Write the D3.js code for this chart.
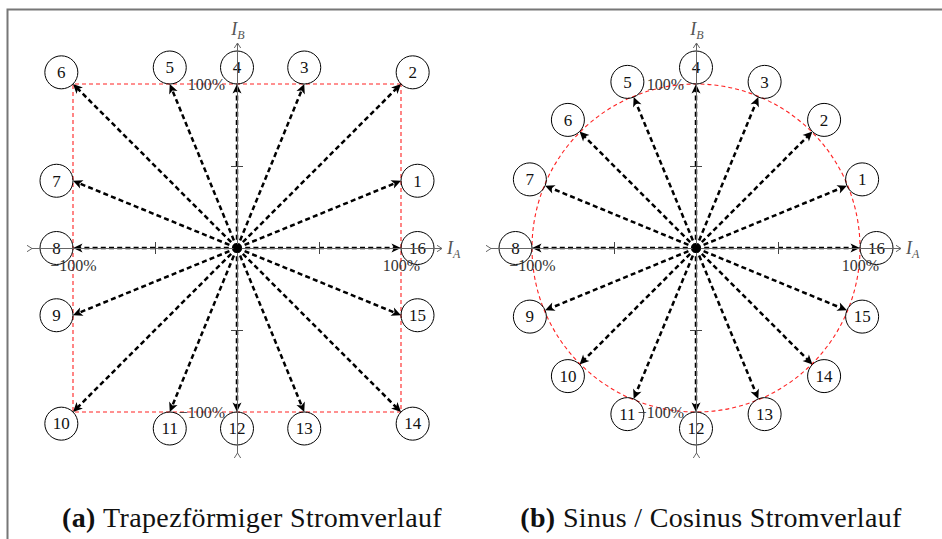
<!DOCTYPE html>
<html>
<head>
<meta charset="utf-8">
<script src="https://cdn.jsdelivr.net/npm/d3@7"></script>
<style>
  html, body { margin: 0; padding: 0; background: #fff; }
  svg { display: block; }
</style>
</head>
<body>
<svg id="chart" width="942" height="539"></svg>
<script>
// Step numbers of the 16 current vectors (counter-clockwise, 16 = +I_A)
const stepLabels = ['1', '2', '3', '4', '5', '6', '7', '8', '9', '10', '11', '12', '13', '14', '15', '16'];

// (a) trapezoidal current, values in % of max current
const trapezA = [100, 100, 41, 0, -41, -100, -100, -100, -100, -100, -41, 0, 41, 100, 100, 100];
const trapezB = [41, 100, 100, 100, 100, 100, 41, 0, -41, -100, -100, -100, -100, -100, -41, 0];

// (b) sine / cosine current
const sinusA = [92, 71, 38, 0, -38, -71, -92, -100, -92, -71, -38, 0, 38, 71, 92, 100];
const sinusB = [38, 71, 92, 100, 92, 71, 38, 0, -38, -71, -92, -100, -92, -71, -38, 0];

// axes
const tickValues = [-50, 50];
const tickLabelValues = [-100, 100];
const tickLabelTexts = ['\u2212100%', '100%'];
const limitValue = 100;

const captionTags = ['(a)', '(b)'];
const captionTexts = ['Trapezförmiger Stromverlauf', 'Sinus / Cosinus Stromverlauf'];

const serif = "'Liberation Serif', 'Times New Roman', serif";
const axisColor = '#666';

const svg = d3.select('#chart');

// frame of the figure (only top and left edge are visible)
svg.append('rect')
    .attr('x', 7.5).attr('y', 9.5)
    .attr('width', 1200).attr('height', 1200)
    .attr('fill', 'none')
    .attr('stroke', '#777')
    .attr('stroke-width', 2);

const defs = svg.append('defs');
defs.append('marker')
    .attr('id', 'vec-head')
    .attr('viewBox', '-8 -6 14 12')
    .attr('markerWidth', 14).attr('markerHeight', 12)
    .attr('markerUnits', 'userSpaceOnUse')
    .attr('orient', 'auto')
    .append('path')
    .attr('d', 'M4,0 L-5.5,-4.5 L-3,0 L-5.5,4.5 Z')
    .attr('fill', '#000');
defs.append('marker')
    .attr('id', 'axis-head')
    .attr('viewBox', '-7 -5 9 10')
    .attr('markerWidth', 9).attr('markerHeight', 10)
    .attr('markerUnits', 'userSpaceOnUse')
    .attr('orient', 'auto')
    .append('path')
    .attr('d', 'M-5,-3.2 L0,0 L-5,3.2')
    .attr('fill', 'none')
    .attr('stroke', axisColor)
    .attr('stroke-width', 1);

const panels = [
    { cx: 237, cy: 248, r: 164, a: trapezA, b: trapezB, shape: 'square', caption: 0 },
    { cx: 696, cy: 248, r: 164, a: sinusA, b: sinusB, shape: 'circle', caption: 1 }
];

const labelRadius = 16.5;
const axisExtent = 125;

panels.forEach(p => drawPanel(p));

function drawPanel(p) {
    const x = d3.scaleLinear().domain([-limitValue, limitValue]).range([p.cx - p.r, p.cx + p.r]);
    const y = d3.scaleLinear().domain([-limitValue, limitValue]).range([p.cy + p.r, p.cy - p.r]);
    const g = svg.append('g');

    const data = stepLabels.map((label, i) => ({ label, a: p.a[i], b: p.b[i] }));

    // red limit outline
    const outline = p.shape === 'square'
        ? g.append('path')
            .attr('d', d3.line().x(d => x(d.a)).y(d => y(d.b)).curve(d3.curveLinearClosed)(
                data.filter(d => Math.abs(d.a) === limitValue && Math.abs(d.b) === limitValue)))
        : g.append('circle')
            .attr('cx', x(0)).attr('cy', y(0))
            .attr('r', x(limitValue) - x(0));
    outline
        .attr('fill', 'none')
        .attr('stroke', '#f22')
        .attr('stroke-width', 1.1)
        .attr('stroke-dasharray', '4,3');

    // current vectors
    const shorten = (d, k) => {
        const dx = x(d.a) - x(0), dy = y(d.b) - y(0);
        const len = Math.hypot(dx, dy);
        return [x(d.a) - 4 * dx / len, y(d.b) - 4 * dy / len][k];
    };
    g.selectAll('.vec')
        .data(data)
        .enter()
        .append('line')
        .attr('class', 'vec')
        .attr('x1', x(0)).attr('y1', y(0))
        .attr('x2', d => shorten(d, 0))
        .attr('y2', d => shorten(d, 1))
        .attr('stroke', '#000')
        .attr('stroke-width', 2.5)
        .attr('stroke-dasharray', '5,3.2')
        .attr('marker-end', 'url(#vec-head)');

    // numbered circles just outside each vector tip
    const labelDir = d => {
        let ux, uy;
        if (p.shape === 'square') {
            ux = Math.abs(d.a) === limitValue ? Math.sign(d.a) : 0;
            uy = Math.abs(d.b) === limitValue ? Math.sign(d.b) : 0;
        } else {
            ux = d.a; uy = d.b;
        }
        const n = Math.hypot(ux, uy);
        return [ux / n, -uy / n];
    };
    const nodes = g.selectAll('.node')
        .data(data)
        .enter()
        .append('g')
        .attr('class', 'node')
        .attr('transform', d => {
            const [ux, uy] = labelDir(d);
            return `translate(${x(d.a) + ux * labelRadius},${y(d.b) + uy * labelRadius})`;
        });
    nodes.append('circle')
        .attr('r', labelRadius)
        .attr('fill', 'none')
        .attr('stroke', '#000')
        .attr('stroke-width', 1);
    nodes.append('text')
        .attr('text-anchor', 'middle')
        .attr('dy', '0.34em')
        .style('font-family', serif)
        .style('font-size', '17px')
        .attr('fill', '#111')
        .text(d => d.label);

    // axes with arrow heads on both ends
    const ax = g.append('g');
    ax.append('line')
        .attr('x1', x(-axisExtent)).attr('x2', x(axisExtent))
        .attr('y1', y(0) + 0.5).attr('y2', y(0) + 0.5)
        .attr('stroke', axisColor)
        .attr('marker-start', 'url(#axis-head)')
        .attr('marker-end', 'url(#axis-head)');
    ax.append('line')
        .attr('x1', x(0) + 0.5).attr('x2', x(0) + 0.5)
        .attr('y1', y(-axisExtent)).attr('y2', y(axisExtent))
        .attr('stroke', axisColor)
        .attr('marker-start', 'url(#axis-head)')
        .attr('marker-end', 'url(#axis-head)');

    // crossing tick marks at +-50%
    const xTicks = ax.append('g')
        .attr('transform', `translate(0,${y(0) - 6})`)
        .call(d3.axisBottom(x).tickValues(tickValues).tickSize(12).tickSizeOuter(0).tickFormat(''));
    const yTicks = ax.append('g')
        .attr('transform', `translate(${x(0) + 6},0)`)
        .call(d3.axisLeft(y).tickValues(tickValues).tickSize(12).tickSizeOuter(0).tickFormat(''));
    [xTicks, yTicks].forEach(s => {
        s.select('.domain').remove();
        s.selectAll('line').attr('stroke', '#444').attr('stroke-width', 1);
    });

    // +-100% tick labels
    const fmt = v => tickLabelTexts[tickLabelValues.indexOf(v)];
    const xLab = ax.append('g')
        .attr('transform', `translate(0,${y(0)})`)
        .call(d3.axisBottom(x).tickValues(tickLabelValues).tickSize(0).tickPadding(12).tickFormat(fmt));
    const yLab = ax.append('g')
        .attr('transform', `translate(${x(0)},0)`)
        .call(d3.axisLeft(y).tickValues(tickLabelValues).tickSize(0).tickPadding(12).tickFormat(fmt));
    [xLab, yLab].forEach(s => {
        s.select('.domain').remove();
        s.selectAll('text')
            .style('font-family', serif)
            .style('font-size', '16px')
            .attr('fill', '#333');
    });

    // axis names
    const iA = ax.append('text')
        .attr('x', x(axisExtent) + 5)
        .attr('y', y(0) + 6)
        .style('font-family', serif)
        .style('font-size', '18px')
        .attr('fill', '#555');
    iA.append('tspan').attr('font-style', 'italic').text('I');
    iA.append('tspan').attr('font-style', 'italic').style('font-size', '12px').attr('dy', 4).text('A');

    const iB = ax.append('text')
        .attr('x', x(0) + 1)
        .attr('y', y(axisExtent) - 8)
        .attr('text-anchor', 'middle')
        .style('font-family', serif)
        .style('font-size', '18px')
        .attr('fill', '#555');
    iB.append('tspan').attr('font-style', 'italic').text('I');
    iB.append('tspan').attr('font-style', 'italic').style('font-size', '12px').attr('dy', 4).text('B');

    // centre dot
    g.append('circle')
        .attr('cx', x(0) + 0.5).attr('cy', y(0) + 0.5)
        .attr('r', 4.2)
        .attr('fill', '#000');

    // caption
    const cap = svg.append('text')
        .attr('x', p.cx + 15)
        .attr('y', 527)
        .attr('text-anchor', 'middle')
        .style('font-family', serif)
        .style('font-size', '28px')
        .style('letter-spacing', '0.35px')
        .attr('fill', '#111');
    cap.append('tspan').attr('font-weight', 'bold').text(captionTags[p.caption]);
    cap.append('tspan').text('\u00a0' + captionTexts[p.caption]);
}
</script>
</body>
</html>
